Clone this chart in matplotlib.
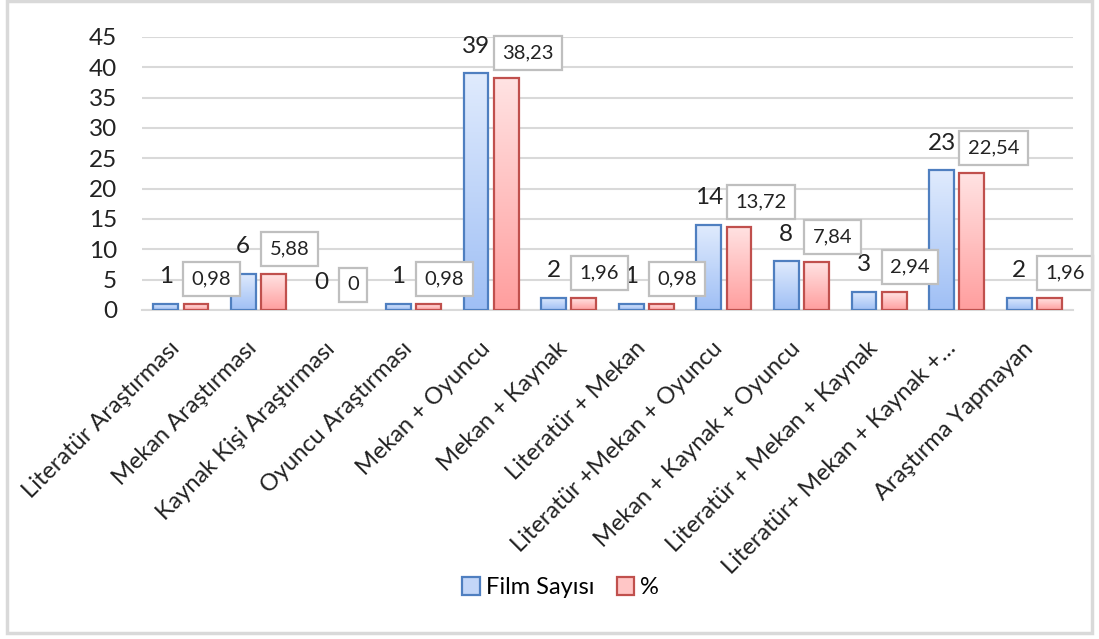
import matplotlib
matplotlib.use("Agg")
import matplotlib.pyplot as plt
import matplotlib.transforms as mtransforms
import numpy as np
from matplotlib.patches import Rectangle
from matplotlib.colors import LinearSegmentedColormap

plt.rcParams['font.family'] = ['Lato', 'DejaVu Sans']

categories = [
    "Literatür Araştırması", "Mekan Araştırması", "Kaynak Kişi Araştırması",
    "Oyuncu Araştırması", "Mekan + Oyuncu", "Mekan + Kaynak",
    "Literatür + Mekan", "Literatür +Mekan + Oyuncu", "Mekan + Kaynak + Oyuncu",
    "Literatür + Mekan + Kaynak", "Literatür+ Mekan + Kaynak +…",
    "Araştırma Yapmayan",
]
film_sayisi = [1, 6, 0, 1, 39, 2, 1, 14, 8, 3, 23, 2]
yuzde = [0.98, 5.88, 0, 0.98, 38.23, 1.96, 0.98, 13.72, 7.84, 2.94, 22.54, 1.96]

blue_cmap = LinearSegmentedColormap.from_list("b", ["#9fbff5", "#e0ebfd"])
red_cmap = LinearSegmentedColormap.from_list("r", ["#ff9e9e", "#ffe3e3"])
grad = np.linspace(0, 1, 256).reshape(-1, 1)

fig = plt.figure(figsize=(10.99, 6.39), dpi=100)
ax = fig.add_axes([0.1292, 0.5149, 0.8472, 0.4272])

x = np.arange(len(categories))
w = 0.32
off = 0.195


def grad_bar(xc, h, cmap, edge):
    if h <= 0:
        return None
    r = Rectangle((xc - w / 2, 0), w, h, facecolor="none", edgecolor=edge,
                  linewidth=1.6, zorder=3)
    ax.add_patch(r)
    im = ax.imshow(grad, cmap=cmap, origin="lower", aspect="auto",
                   extent=(xc - w / 2, xc + w / 2, 0, h), zorder=2)
    im.set_clip_path(r)
    return r


for i in range(len(categories)):
    grad_bar(x[i] - off, film_sayisi[i], blue_cmap, "#4f7fc0")
    grad_bar(x[i] + off, yuzde[i], red_cmap, "#c0504d")
    ax.annotate(str(film_sayisi[i]), (x[i] - off, film_sayisi[i]),
                xytext=(0, 12), textcoords="offset points", ha="center",
                va="bottom", fontsize=17.5, color="#222222", zorder=5)
    pct = ("%.2f" % yuzde[i]).replace(".", ",") if yuzde[i] else "0"
    ax.annotate(pct, (x[i] + off - w / 2, yuzde[i]),
                xytext=(6, 12), textcoords="offset points", ha="left",
                va="bottom", fontsize=14.5, color="#222222", zorder=6,
                annotation_clip=False,
                bbox=dict(boxstyle="square,pad=0.42", facecolor="white",
                          edgecolor="#bfbfbf", linewidth=1.6))

ax.set_xlim(-0.5, len(categories) - 0.5)
ax.set_ylim(0, 45)
ax.set_yticks(range(0, 46, 5))
ax.yaxis.grid(True, color="#d9d9d9", linewidth=1.5, zorder=0)
ax.set_axisbelow(True)
for s in ["top", "right", "left"]:
    ax.spines[s].set_visible(False)
ax.spines["bottom"].set_color("#d9d9d9")
ax.spines["bottom"].set_linewidth(1.5)
ax.tick_params(axis="both", length=0, colors="#222222")
ax.tick_params(axis="y", pad=18, labelsize=17.5)
ax.set_xticks(x)
ax.set_xticklabels(categories, rotation=45, ha="right", va="top",
                   rotation_mode="anchor", fontsize=17)
ax.tick_params(axis="x", pad=20)
shift = mtransforms.ScaledTranslation(-12 / 100, 0, fig.dpi_scale_trans)
for lbl in ax.get_xticklabels():
    lbl.set_transform(lbl.get_transform() + shift)

handles = [Rectangle((0, 0), 1, 1, facecolor="#c3d6f8", edgecolor="#4f7fc0", linewidth=1.6),
           Rectangle((0, 0), 1, 1, facecolor="#ffc6c6", edgecolor="#c0504d", linewidth=1.6)]
fig.legend(handles, ["Film Sayısı", "%"], loc="center", bbox_to_anchor=(0.51, 0.08),
           ncol=2, frameon=False, fontsize=17, handlelength=0.75, handleheight=0.75,
           handletextpad=0.25, columnspacing=0.95)

fig.patches.append(Rectangle((0.006, 0.01), 0.988, 0.988, transform=fig.transFigure,
                             facecolor="none", edgecolor="#d9d9d9", linewidth=2.5))

fig.savefig("out.png", dpi=100)
